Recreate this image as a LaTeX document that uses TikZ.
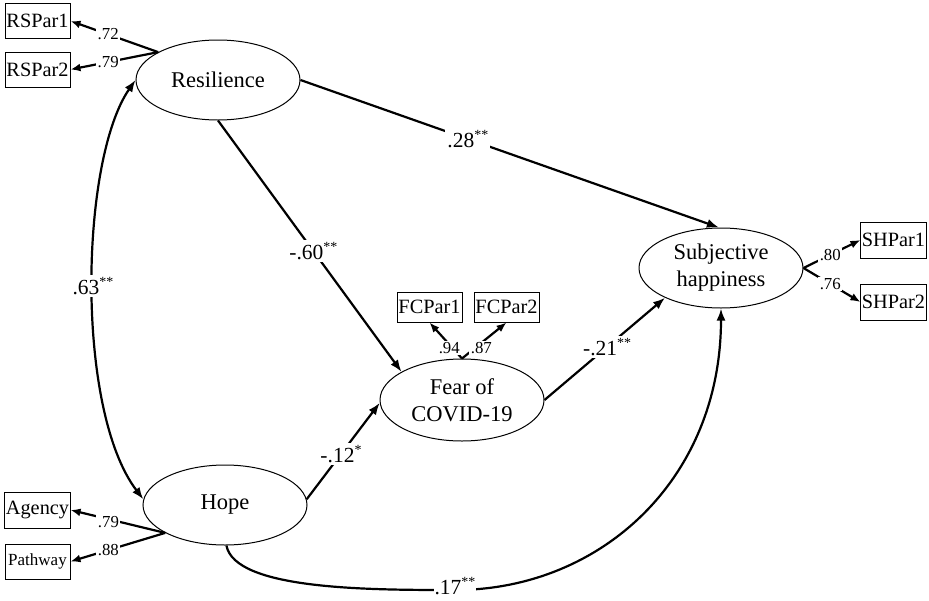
\documentclass[tikz,border=0pt]{standalone}
\usepackage{fontspec}
\setmainfont{Liberation Serif}
\usetikzlibrary{arrows.meta,shapes.geometric}
\newcommand{\sigst}[1]{\raisebox{8pt}{\fontsize{14}{14}\selectfont #1}}
\begin{document}
\begin{tikzpicture}[x=1pt,y=-1pt,
  lat/.style={ellipse, draw, line width=1pt, minimum width=164pt, minimum height=80pt, inner sep=0pt, align=center, font=\fontsize{22.5}{27}\selectfont},
  obs/.style={rectangle, draw, line width=1pt, minimum width=65pt, minimum height=35pt, inner sep=1pt, font=\fontsize{20.3}{24}\selectfont},
  reg/.style={line width=2.2pt, -{Latex[length=12pt,width=9pt]}},
  bireg/.style={line width=2.2pt, {Latex[length=12pt,width=9pt]}-{Latex[length=12pt,width=9pt]}},
  ld/.style={line width=2.2pt, -{Latex[length=10pt,width=8pt]}},
  coef/.style={fill=white, inner sep=2pt, font=\fontsize{21.5}{24}\selectfont},
  lc/.style={fill=white, inner sep=1.5pt, font=\fontsize{16.8}{18}\selectfont},
]
\useasboundingbox (0,0) rectangle (929,600);
% latent variables
\node[lat] (res) at (218,80) {Resilience};
\node[lat] (hope) at (225,505) {Hope};
\node[lat, minimum height=82pt] (fear) at (462,400) {Fear of\\COVID-19};
\node[lat] (sh) at (721,268) {Subjective\\happiness};
% indicators
\node[obs] (rs1) at (37.5,21) {RSPar1};
\node[obs] (rs2) at (37.5,69.5) {RSPar2};
\node[obs, minimum height=36pt] (ag) at (37.5,510) {Agency};
\node[obs, font=\fontsize{17}{20}\selectfont] (pw) at (37.5,561.5) {Pathway};
\node[obs, minimum height=30pt] (fc1) at (429.5,307) {FCPar1};
\node[obs, minimum height=30pt] (fc2) at (506.5,307) {FCPar2};
\node[obs, minimum height=36pt] (sp1) at (893.5,240) {SHPar1};
\node[obs, minimum height=36pt] (sp2) at (893.5,302) {SHPar2};
% loadings
\draw[ld] (res.155) -- node[lc,pos=.57]{.72} (rs1.east);
\draw[ld] (res.155) -- node[lc,pos=.57]{.79} (rs2.east);
\draw[ld] (hope.205) -- node[lc,pos=.6,yshift=-3pt]{.79} (ag.east);
\draw[ld] (hope.205) -- node[lc,pos=.6]{.88} (pw.east);
\draw[ld] (fear.north) -- node[lc,pos=.3,xshift=-3pt]{.94} (fc1.south);
\draw[ld] (fear.north) -- node[lc,pos=.3,xshift=6pt]{.87} (fc2.south);
\draw[ld] (sh.east) -- node[lc,pos=.47]{.80} (sp1.west);
\draw[ld] (sh.east) -- node[lc,pos=.47]{.76} (sp2.west);
% structural paths
\draw[reg] (res.east) -- node[coef,pos=.4]{.28\sigst{**}} (sh.93);
\draw[reg] (res.south) -- node[coef,pos=.52]{-.60\sigst{**}} (fear.155);
\draw[reg] (hope.4) -- node[coef,pos=.47]{-.12\sigst{*}} (fear.182);
\draw[reg] (fear.east) -- node[coef,pos=.52]{-.21\sigst{**}} (sh.208);
\draw[bireg] (res.west) .. controls (80,160) and (75,410) .. (hope.176) node[coef,pos=.5]{.63\sigst{**}};
\draw[reg] (hope.-88) .. controls (235,590) and (370,590) .. (455,590) node[coef,inner sep=1pt,yshift=4pt]{.17\sigst{**}} .. controls (600,590) and (721,480) .. (sh.south);
\end{tikzpicture}
\end{document}
